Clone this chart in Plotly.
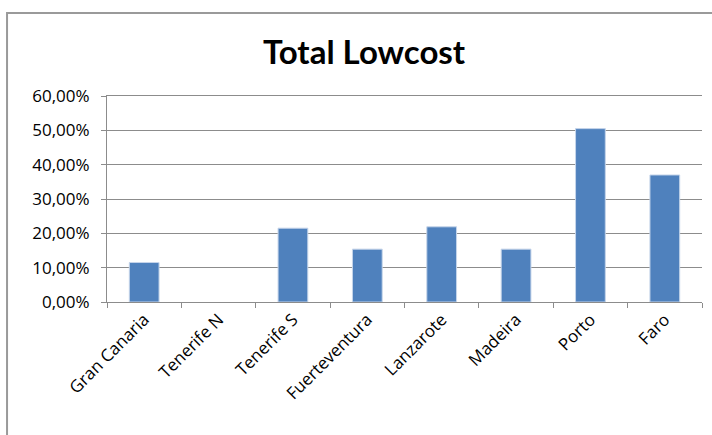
import plotly.graph_objects as go

# Low-cost share per airport (Tenerife N has no value)
airports = ["Gran Canaria", "Tenerife N", "Tenerife S", "Fuerteventura",
            "Lanzarote", "Madeira", "Porto", "Faro"]
lowcost_share = [0.115, None, 0.215, 0.154, 0.219, 0.154, 0.505, 0.370]

y_ticks = [0.0, 0.1, 0.2, 0.3, 0.4, 0.5, 0.6]

BAR_BLUE = "#4F81BD"
GRID_GREY = "#8c8c8c"
FONT = "Open Sans, Lato, DejaVu Sans, sans-serif"

fig = go.Figure(
    go.Bar(
        x=airports,
        y=lowcost_share,
        marker=dict(color=BAR_BLUE, line=dict(color="#c6d5ea", width=1)),
        hovertemplate="%{x}: %{y:.2%}<extra></extra>",
    )
)

fig.update_layout(
    width=712,
    height=435,
    margin=dict(l=107, r=10, t=96, b=133),
    paper_bgcolor="white",
    plot_bgcolor="white",
    separators=",.",
    bargap=0.6,
    showlegend=False,
    font=dict(family=FONT, size=17, color="black"),
    title=dict(
        text="<b>Total Lowcost</b>",
        font=dict(family="Lato, Open Sans, sans-serif", size=33, color="black"),
        x=0.432,
        xref="paper",
        xanchor="center",
        y=0.88,
        yref="container",
        yanchor="middle",
    ),
)

fig.update_yaxes(
    range=[0, 0.6],
    tickvals=y_ticks,
    tickformat=".2%",
    showgrid=True,
    gridcolor=GRID_GREY,
    gridwidth=1,
    showline=True,
    linecolor=GRID_GREY,
    linewidth=1,
    ticks="outside",
    ticklen=5,
    tickcolor=GRID_GREY,
    ticklabelstandoff=8,
    zeroline=False,
    tickfont=dict(family=FONT, size=17, color="black"),
)

fig.update_xaxes(
    showline=True,
    mirror=True,
    linecolor=GRID_GREY,
    linewidth=1,
    ticks="outside",
    tickson="boundaries",
    ticklen=5,
    tickcolor=GRID_GREY,
    tickangle=-45,
    showgrid=False,
    tickfont=dict(family=FONT, size=17, color="black"),
)

# Chart-area frame
fig.add_shape(
    type="rect",
    xref="paper", yref="paper",
    x0=-0.168, x1=1.05, y0=-0.72, y1=1.403,
    line=dict(color="#9a9a9a", width=2),
    fillcolor="rgba(0,0,0,0)",
    layer="below",
)

fig.write_html("out.html")
